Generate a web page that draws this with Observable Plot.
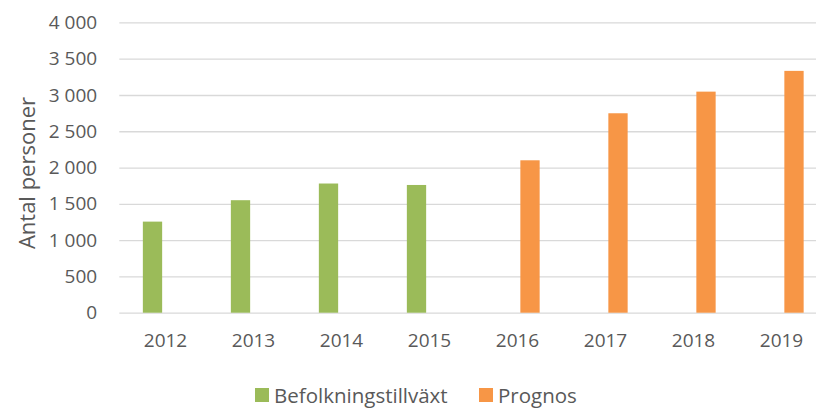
<!DOCTYPE html>
<html>
<head>
<meta charset="utf-8">
<script src="https://cdn.jsdelivr.net/npm/d3@7"></script>
<script src="https://cdn.jsdelivr.net/npm/@observablehq/plot@0.6"></script>
<style>
  html, body { margin: 0; padding: 0; background: #fff; }
  #chart { width: 816px; height: 408px; position: relative; overflow: hidden; font-family: "Open Sans", sans-serif; }
  #legend { position: absolute; left: 0; top: 383px; width: 816px; height: 24px; color: #595959; font-size: 20.5px; line-height: 20px; }
  .item { display: flex; align-items: center; position: absolute; top: 2px; height: 20px; }
  .sw { width: 14px; height: 14px; display: inline-block; margin-right: 5px; }
</style>
</head>
<body>
<div id="chart"></div>
<script>
const years = ["2012", "2013", "2014", "2015", "2016", "2017", "2018", "2019"];
const seriesNames = ["Befolkningstillväxt", "Prognos"];
const seriesColors = ["#9BBB59", "#F79646"];
const befolkningYears = ["2012", "2013", "2014", "2015"];
const befolkningValues = [1255, 1550, 1780, 1760];
const prognosYears = ["2016", "2017", "2018", "2019"];
const prognosValues = [2100, 2748, 3046, 3332];
const yTicks = [0, 500, 1000, 1500, 2000, 2500, 3000, 3500, 4000];
const yLabel = "Antal personer";

const befData = befolkningYears.map((y, i) => ({year: y, value: befolkningValues[i], series: seriesNames[0]}));
const progData = prognosYears.map((y, i) => ({year: y, value: prognosValues[i], series: seriesNames[1]}));

const fmt = d => d3.format(",")(d).replace(/,/g, " ");
const textColor = "#595959";
const gridColor = "#d9d9d9";

const plot = Plot.plot({
  width: 816,
  height: 360,
  marginLeft: 119.3,
  marginRight: -9.7,
  marginTop: 22.4,
  marginBottom: 47.3,
  style: {fontFamily: "Open Sans, sans-serif", fontSize: "19px", color: textColor, background: "transparent"},
  x: {domain: years, padding: 0, label: null},
  y: {domain: [0, 4000], label: null},
  color: {domain: seriesNames, range: seriesColors},
  marks: [
    Plot.ruleY(yTicks, {stroke: gridColor, strokeWidth: 1.3}),
    Plot.barY(befData, {x: "year", y: "value", fill: "series", insetLeft: 34.35, insetRight: 34.35, dx: -12.5}),
    Plot.barY(progData, {x: "year", y: "value", fill: "series", insetLeft: 34.35, insetRight: 34.35, dx: 13}),
    Plot.axisY({ticks: yTicks, tickFormat: fmt, tickSize: 0, tickPadding: 22.6, fill: textColor, fontSize: 19, label: null}),
    Plot.axisX({tickSize: 0, tickPadding: 20, fill: textColor, fontSize: 19, label: null}),
    Plot.text([yLabel], {frameAnchor: "left", textAnchor: "middle", rotate: -90, dx: -92, dy: 5, fill: textColor, fontSize: 22, text: d => d})
  ]
});

const chart = document.getElementById("chart");
chart.appendChild(plot);

const legend = document.createElement("div");
legend.id = "legend";
const lefts = [255, 479];
seriesNames.forEach((name, i) => {
  const item = document.createElement("div");
  item.className = "item";
  item.style.left = lefts[i] + "px";
  const sw = document.createElement("span");
  sw.className = "sw";
  sw.style.background = seriesColors[i];
  const label = document.createElement("span");
  label.textContent = name;
  item.appendChild(sw);
  item.appendChild(label);
  legend.appendChild(item);
});
chart.appendChild(legend);
</script>
</body>
</html>
